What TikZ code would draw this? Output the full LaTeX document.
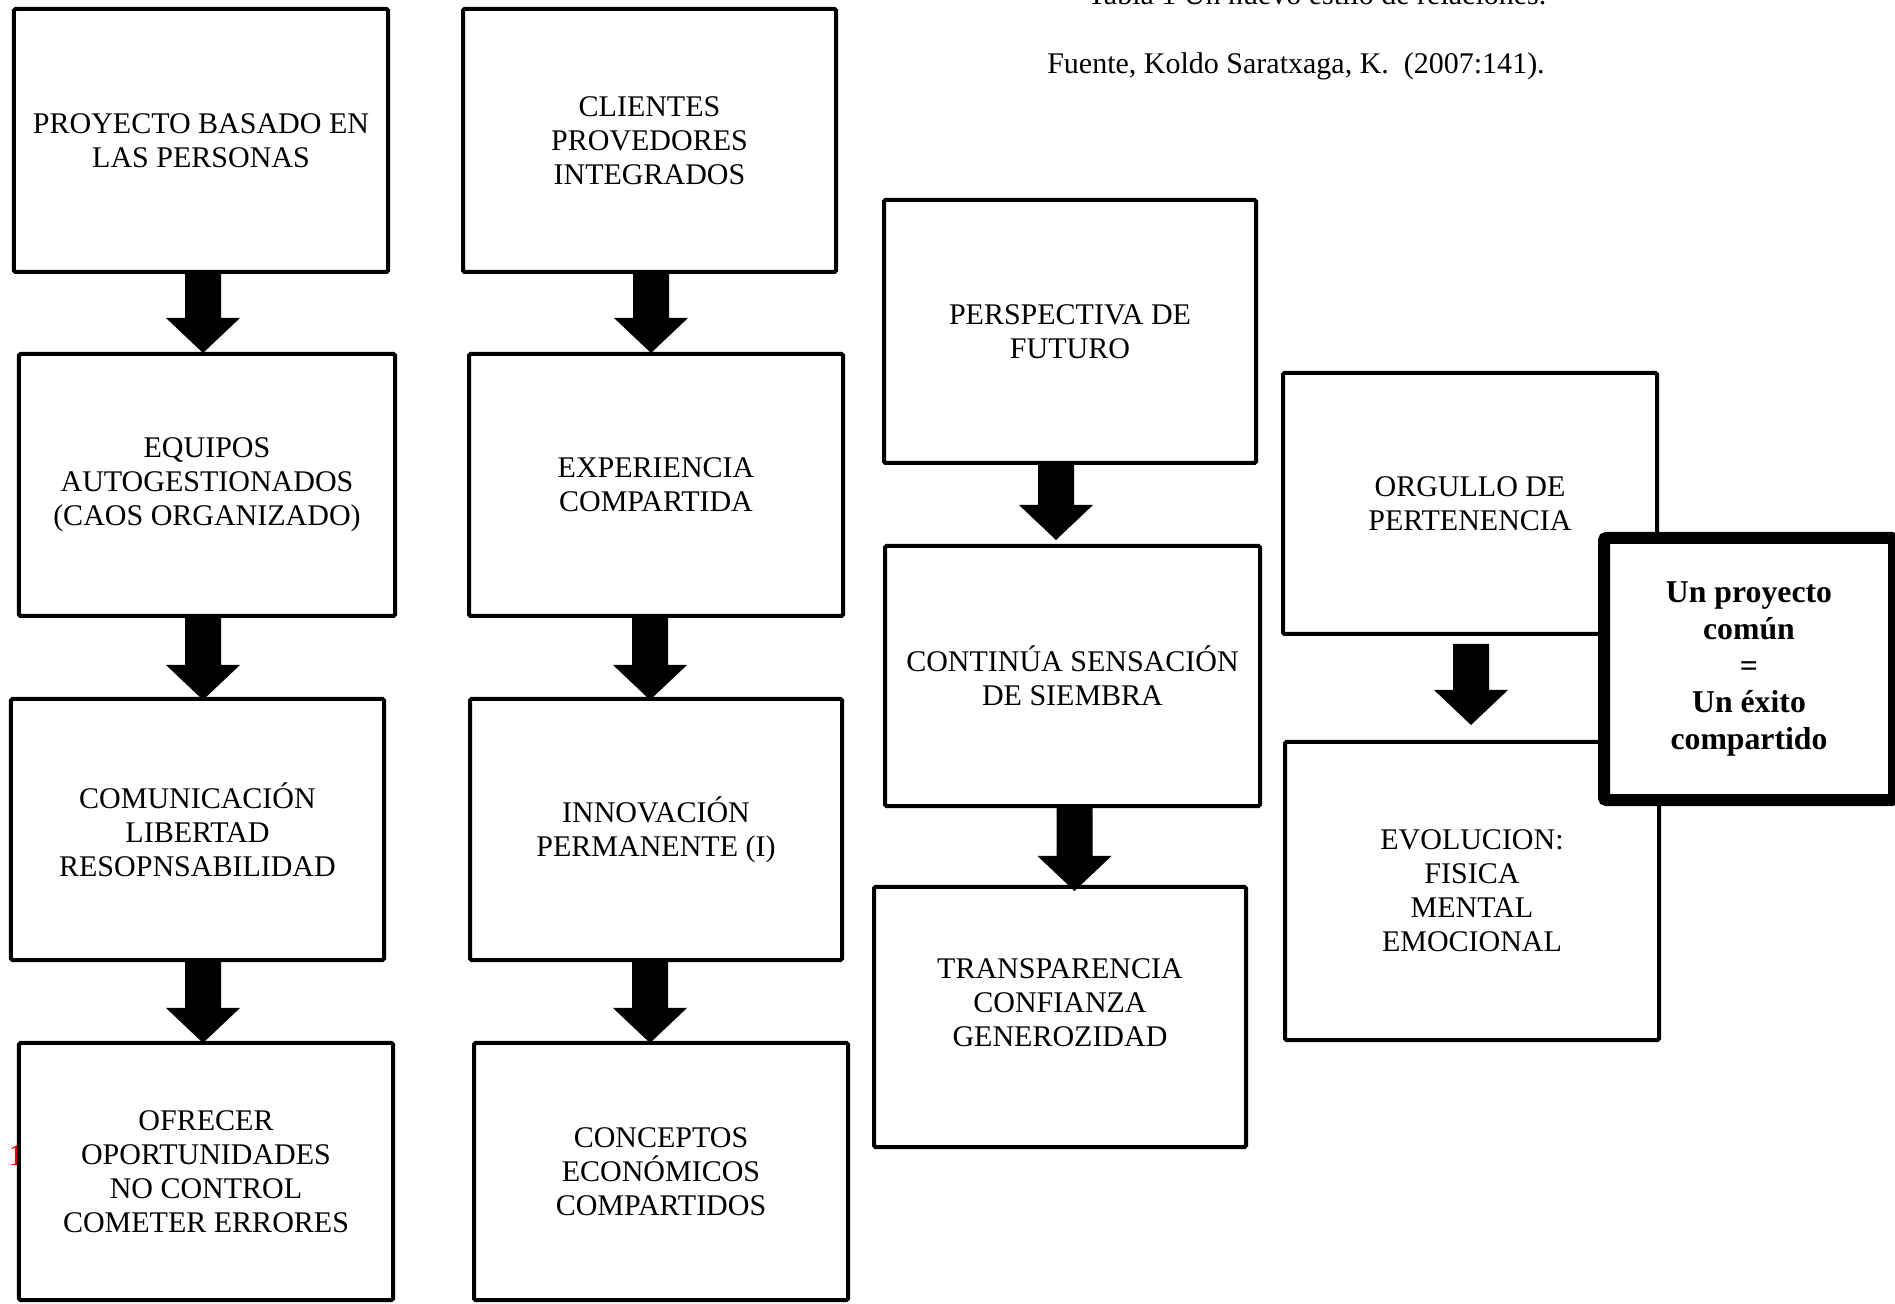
\documentclass[tikz,border=0pt]{standalone}
\usepackage{fontspec}
\setmainfont{Liberation Serif}
\usetikzlibrary{calc}
\tikzset{
  box/.style={draw, line width=1.6pt, fill=white, align=center, inner sep=0pt,
    rounded corners=0.6pt, font=\fontsize{12}{13.6}\selectfont},
  bigbox/.style={draw, line width=4.8pt, fill=white, align=center, inner sep=0pt,
    rounded corners=1pt, font=\fontsize{12.7}{14.7}\selectfont\bfseries},
  caption/.style={font=\fontsize{12}{14}\selectfont, inner sep=0pt}
}
% #1 upper node, #2 lower node, #3 x offset (px), #4 start offset below #1.south (px), #5 tip offset below #2.north (px)
\newcommand\blockarrow[5]{%
  \fill let \p1=(#1.south), \p2=(#2.north) in
   ({\x1+((#3)-18)*0.4pt},{\y1-(#4)*0.4pt}) --
   ({\x1+((#3)+18)*0.4pt},{\y1-(#4)*0.4pt}) --
   ({\x1+((#3)+18)*0.4pt},{\y2-((#5)-35)*0.4pt}) --
   ({\x1+((#3)+37)*0.4pt},{\y2-((#5)-35)*0.4pt}) --
   ({\x1+(#3)*0.4pt},{\y2-(#5)*0.4pt}) --
   ({\x1+((#3)-37)*0.4pt},{\y2-((#5)-35)*0.4pt}) --
   ({\x1+((#3)-18)*0.4pt},{\y2-((#5)-35)*0.4pt}) -- cycle;}
\begin{document}
\begin{tikzpicture}[x=0.4pt,y=-0.4pt]
\useasboundingbox (0,0) rectangle (1895,1304);

% captions
\node[caption, anchor=base] (cap1) at (1317,5) {Tabla 1 Un nuevo estilo de relaciones.};
\node[caption, anchor=base] (cap2) at (1296,74) {Fuente, Koldo Saratxaga, K.\ \ (2007:141).};
\node[caption, anchor=base west, text=red] (stray) at (8,1165) {1};

% column 1
\node[box, minimum width=149.6pt, minimum height=105.2pt] (a1) at (201,140.5) {PROYECTO BASADO EN\\LAS PERSONAS};
\node[box, minimum width=150.4pt, minimum height=104.8pt] (a2) at (207,485) {EQUIPOS\\AUTOGESTIONADOS\\(CAOS ORGANIZADO)};
\node[box, minimum width=149.2pt, minimum height=104.4pt] (a3) at (197.5,829.5) {COMUNICACIÓN\\LIBERTAD\\RESOPNSABILIDAD};
\node[box, minimum width=149.6pt, minimum height=102.8pt] (a4) at (206,1171.5) {OFRECER\\OPORTUNIDADES\\NO CONTROL\\COMETER ERRORES};

% column 2
\node[box, minimum width=149.2pt, minimum height=105.2pt] (b1) at (649.5,140.5) {CLIENTES\\PROVEDORES\\INTEGRADOS};
\node[box, minimum width=149.6pt, minimum height=104.8pt] (b2) at (656,485) {EXPERIENCIA\\COMPARTIDA};
\node[box, minimum width=148.8pt, minimum height=104.4pt] (b3) at (656,829.5) {INNOVACIÓN\\PERMANENTE (I)};
\node[box, minimum width=149.6pt, minimum height=102.8pt] (b4) at (661,1171.5) {CONCEPTOS\\ECONÓMICOS\\COMPARTIDOS};

% column 3
\node[box, minimum width=148.8pt, minimum height=105.2pt] (c1) at (1070,331.5) {PERSPECTIVA DE\\FUTURO};
\node[box, minimum width=150pt, minimum height=104pt] (c2) at (1072.5,676) {CONTINÚA SENSACIÓN\\DE SIEMBRA};
\node[box, minimum width=148.8pt, minimum height=104pt] (c3) at (1060,1017) {};
\node[box, draw=none, fill=none] (c3t) at (1060,1003) {TRANSPARENCIA\\CONFIANZA\\GENEROZIDAD};

% column 4
\node[box, minimum width=149.6pt, minimum height=104.4pt] (d1) at (1470,503.5) {ORGULLO DE\\PERTENENCIA};
\node[box, minimum width=149.6pt, minimum height=119.2pt] (d2) at (1472,891) {EVOLUCION:\\FISICA\\MENTAL\\EMOCIONAL};

% big box
\node[bigbox, minimum width=116pt, minimum height=104.8pt] (e) at (1749,669) {Un proyecto\\común\\=\\Un éxito\\compartido};

% arrows
\blockarrow{a1}{a2}{2}{0}{1}
\blockarrow{a2}{a3}{-4}{0}{3}
\blockarrow{a3}{a4}{5.5}{0}{2}
\blockarrow{b1}{b2}{1.5}{0}{1}
\blockarrow{b2}{b3}{-6}{0}{3}
\blockarrow{b3}{b4}{-6}{0}{2}
\blockarrow{c1}{c2}{-14}{0}{-4}
\blockarrow{c2}{c3}{2}{0}{6}
\blockarrow{d1}{d2}{1}{8}{-15}
\end{tikzpicture}
\end{document}
